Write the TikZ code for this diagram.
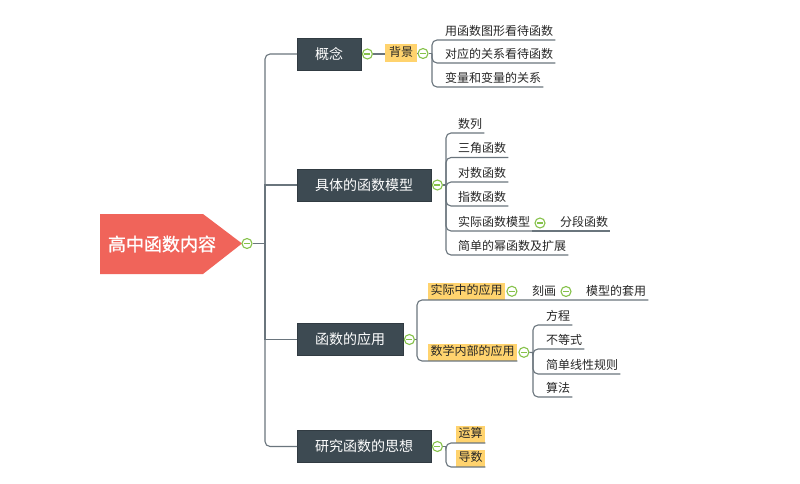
\documentclass[tikz,border=0pt]{standalone}
\usepackage{fontspec}
\newfontfamily\cjk{Noto Sans CJK SC}
\newfontfamily\cjkb{Noto Sans CJK SC}[FakeBold=1]
\usetikzlibrary{calc}
\definecolor{rootred}{HTML}{F0645A}
\definecolor{mainfill}{HTML}{3D4A52}
\definecolor{hl}{HTML}{FFD36E}
\definecolor{conn}{HTML}{6A757D}
\definecolor{togg}{HTML}{86C24A}
\definecolor{txt}{HTML}{262626}
\tikzset{
  mainbox/.style={fill=mainfill, draw=mainfill!80!black, text=white, font=\cjk\fontsize{14}{16}\selectfont, inner xsep=18pt, inner ysep=0pt, minimum height=32pt, anchor=west},
  hlbox/.style={fill=hl, text=txt, font=\cjk\fontsize{12}{14}\selectfont, inner xsep=2.5pt, inner ysep=0pt, text height=9.5pt, text depth=2.5pt, minimum height=17pt},
  leaf/.style={text=txt, font=\cjk\fontsize{12}{14}\selectfont, inner xsep=2pt, inner ysep=3pt, text height=9pt, text depth=1.5pt, anchor=south west},
  toggle/.style={circle, draw=togg, fill=white, line width=1.1pt, minimum size=10pt, inner sep=0pt,
    path picture={\draw[togg, line width=1.1pt] ([xshift=-3pt]path picture bounding box.center) -- ([xshift=3pt]path picture bounding box.center);}},
  link/.style={draw=conn, line width=1.1pt},
  elbow/.style={link, rounded corners=5pt}
}
\begin{document}
\begin{tikzpicture}[x=1pt,y=-1pt]
\fill[white] (0,0) rectangle (800,484);
\useasboundingbox (0,0) rectangle (800,484);
% root
\fill[rootred] (100,214) -- (203,214) -- (242,243.5) -- (203,274) -- (100,274) -- cycle;
\node[font=\cjkb\fontsize{18}{20}\selectfont, text=white] (root) at (162,244) {高中函数内容};
\node[toggle] (t0) at (247,243.5) {};
\coordinate (tk) at (265,243.5);
% main topics
\node[mainbox] (m1) at (297,54) {概念};
\node[mainbox] (m2) at (297,185) {具体的函数模型};
\node[mainbox] (m3) at (297,339.5) {函数的应用};
\node[mainbox] (m4) at (297,446.5) {研究函数的思想};
\draw[link] (t0) -- (tk);
\draw[elbow] (m1.west) -| (tk) |- (m4.west);
\draw[link] (tk) |- (m2.west);
\draw[link] (tk) |- (m3.west);
% group 1
\node[toggle] (t1) at ([xshift=6pt]m1.east) {};
\node[hlbox, minimum height=18pt, minimum width=32pt] (bj) at (401,53) {背景};
\node[toggle] (t1b) at (423,53.5) {};
\coordinate (b1) at (432,53.5);
\draw[link] (t1) -- (t1 -| bj.west);
\draw[link] (t1b -| bj.east) -- (t1b);
\draw[link] (t1b) -- (b1);
\node[leaf] (c11) at (443,40) {用函数图形看待函数};
\node[leaf] (c12) at (443,63) {对应的关系看待函数};
\node[leaf] (c13) at (443,87) {变量和变量的关系};
\foreach \c in {c11,c12,c13} \draw[elbow] (b1) |- (\c.south west) -- (\c.south east);
% group 2
\node[toggle] (t2) at ([xshift=6pt]m2.east) {};
\coordinate (b2) at (446,185);
\draw[link] (t2) -- (b2);
\node[leaf] (c21) at (456,133) {数列};
\node[leaf] (c22) at (456,157.5) {三角函数};
\node[leaf] (c23) at (456,182) {对数函数};
\node[leaf] (c24) at (456,206) {指数函数};
\node[leaf] (c25) at (456,231) {实际函数模型};
\node[leaf] (c26) at (456,255) {简单的幂函数及扩展};
\foreach \c in {c21,c22,c23,c24,c25,c26} \draw[elbow] (b2) |- (\c.south west) -- (\c.south east);
\node[toggle] (t25) at (540,223) {};
\node[leaf] (c251) at (558,231) {分段函数};
\draw[link] (c25.south east) -- (c251.south west) -- (c251.south east);
% group 3
\node[toggle] (t3) at ([xshift=6pt]m3.east) {};
\coordinate (b3) at (417,339.5);
\draw[link] (t3) -- (b3);
\node[hlbox, anchor=south west] (a1) at (428,300) {实际中的应用};
\node[toggle] (t31) at ([xshift=6.5pt]a1.east) {};
\node[leaf] (k1) at (530,300) {刻画};
\node[toggle] (t32) at (566,291.5) {};
\node[leaf] (k2) at (584,300) {模型的套用};
\draw[elbow] (b3) |- (a1.south west) -- (k2.south east);
\node[hlbox, anchor=south west] (a2) at (428,361) {数学内部的应用};
\draw[elbow] (b3) |- (a2.south west) -- (a2.south east);
\node[toggle] (t33) at ([xshift=6.5pt]a2.east) {};
\coordinate (b4) at (533,352.5);
\draw[link] (t33) -- (b4);
\node[leaf] (d1) at (544,325) {方程};
\node[leaf] (d2) at (544,349) {不等式};
\node[leaf] (d3) at (544,374) {简单线性规则};
\node[leaf] (d4) at (544,397) {算法};
\foreach \c in {d1,d2,d3,d4} \draw[elbow] (b4) |- (\c.south west) -- (\c.south east);
% group 4
\node[toggle] (t4) at ([xshift=6pt]m4.east) {};
\coordinate (b5) at (446,446.5);
\draw[link] (t4) -- (b5);
\node[hlbox, anchor=south west] (y1) at (456,443) {运算};
\node[hlbox, anchor=south west] (y2) at (456,467) {导数};
\draw[elbow] (b5) |- (y1.south west) -- (y1.south east);
\draw[elbow] (b5) |- (y2.south west) -- (y2.south east);
\end{tikzpicture}
\end{document}
